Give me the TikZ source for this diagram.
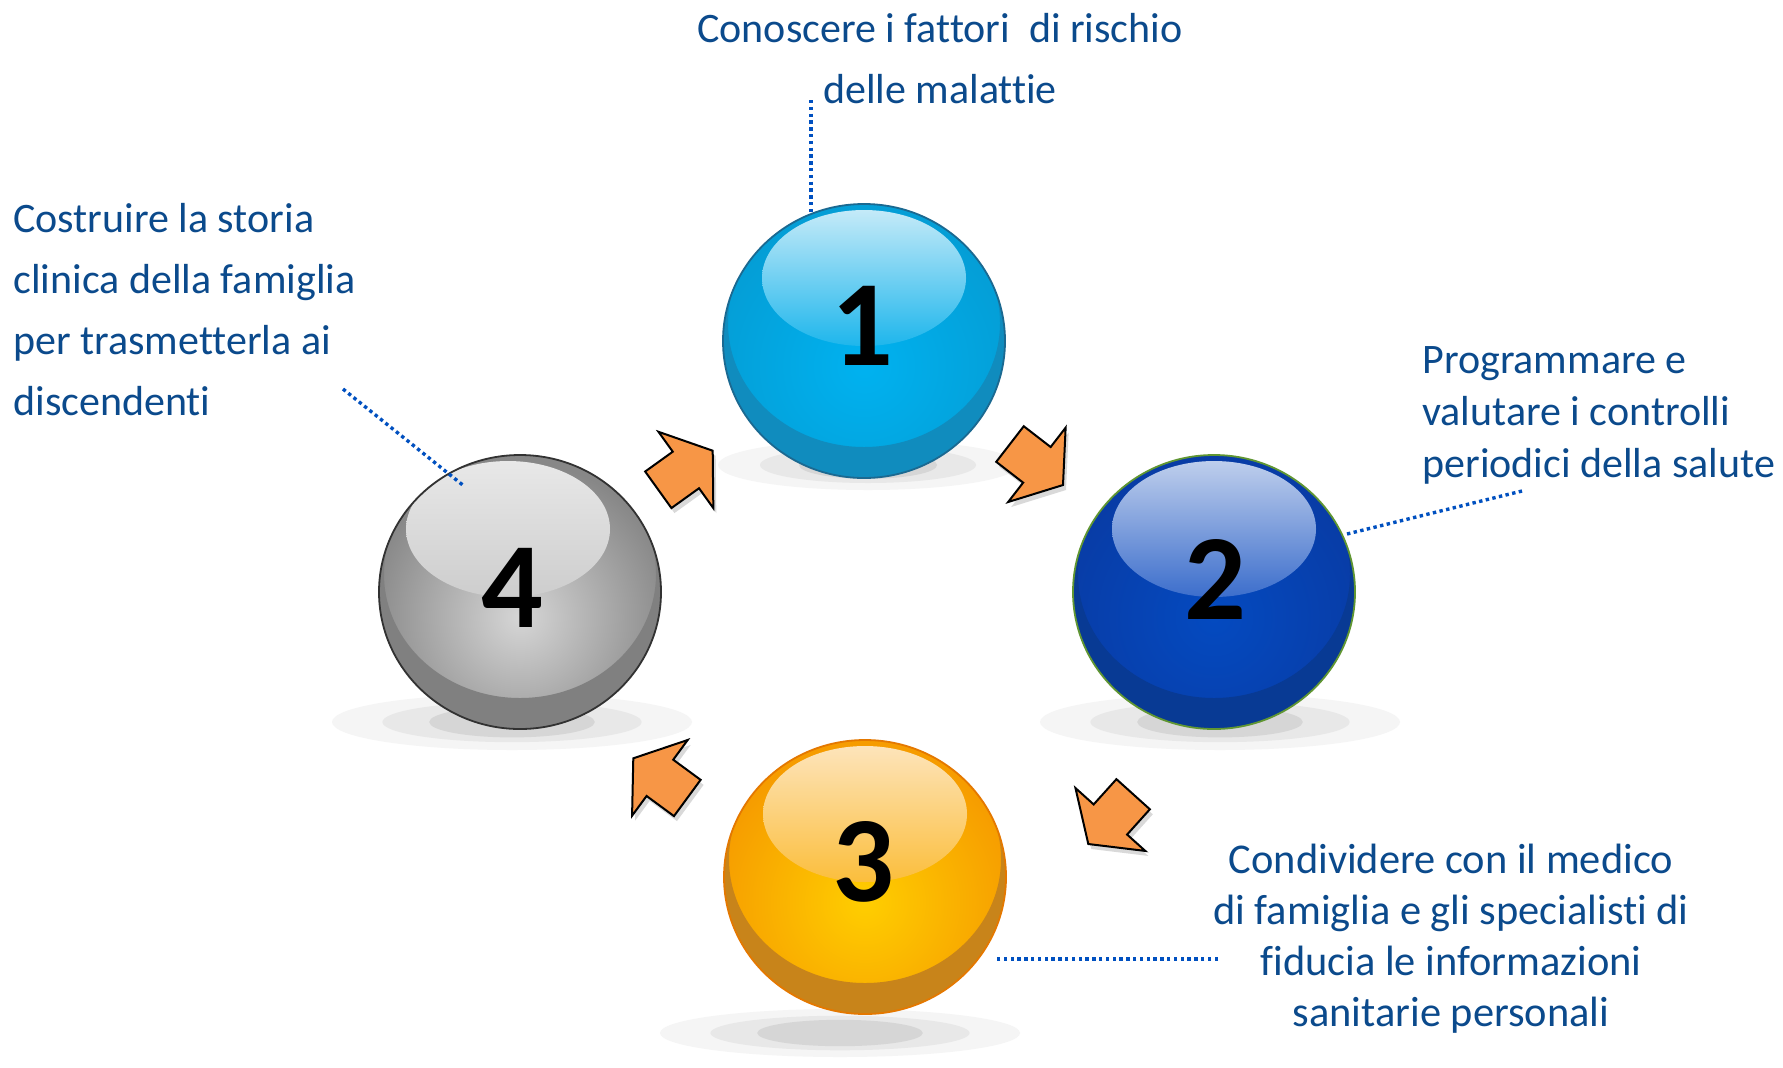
\documentclass[tikz,border=0pt]{standalone}
\usepackage{fontspec}
\setmainfont{Carlito}[Ligatures={NoCommon}]
\newfontfamily\numfont{Carlito-Bold.ttf}
\definecolor{txtblue}{RGB}{11,74,140}
\definecolor{dotblue}{RGB}{0,80,192}
\definecolor{arrfill}{RGB}{247,150,70}
% sphere 1 (cyan)
\definecolor{aout}{RGB}{4,158,214}
\definecolor{ain}{RGB}{0,178,240}
\definecolor{acre}{RGB}{16,140,190}
\definecolor{ahiT}{RGB}{196,234,248}
\definecolor{ahiB}{RGB}{30,182,236}
\definecolor{aline}{RGB}{27,105,145}
% sphere 2 (blue)
\definecolor{bout}{RGB}{8,60,166}
\definecolor{bin}{RGB}{4,74,192}
\definecolor{bcre}{RGB}{8,58,148}
\definecolor{bhiT}{RGB}{190,206,236}
\definecolor{bhiB}{RGB}{60,110,204}
\definecolor{bline}{RGB}{96,150,50}
% sphere 3 (orange)
\definecolor{cout}{RGB}{246,156,0}
\definecolor{cin}{RGB}{255,206,0}
\definecolor{ccre}{RGB}{200,132,26}
\definecolor{chiT}{RGB}{253,228,186}
\definecolor{chiB}{RGB}{251,190,60}
\definecolor{cline}{RGB}{228,120,0}
% sphere 4 (gray)
\definecolor{dout}{RGB}{135,135,135}
\definecolor{din}{RGB}{214,214,214}
\definecolor{dcre}{RGB}{128,128,128}
\definecolor{dhiT}{RGB}{232,232,232}
\definecolor{dhiB}{RGB}{205,205,205}
\definecolor{dline}{RGB}{50,50,50}
\newcommand\ballshadow[4]{%
  \fill[black!4] (#1,#2) ellipse [x radius=#3, y radius=#4];
  \fill[black!9] (#1,#2) ellipse [x radius={0.72*#3}, y radius={0.72*#4}];
  \fill[black!16] (#1,#2) ellipse [x radius={0.46*#3}, y radius={0.55*#4}];
}
\newcommand\drawsphere[4]{%
  \begin{scope}[shift={(#1,#2)}]
    \fill[#3out] (0,0) ellipse [x radius=141, y radius=137];
    \begin{scope}
      \clip (0,0) ellipse [x radius=141, y radius=137];
      \shade[inner color=#3in, outer color=#3out] (0,25) ellipse [x radius=155, y radius=155];
      \fill[#3cre, even odd rule] (0,0) ellipse [x radius=143, y radius=139]
        (0,-18) ellipse [x radius=136, y radius=124];
    \end{scope}
    \shade[top color=#3hiT, bottom color=#3hiB] (#4,-63) ellipse [x radius=102, y radius=68];
    \draw[#3line, line width=0.9pt] (0,0) ellipse [x radius=141, y radius=137];
  \end{scope}}
\newcommand\arrowpath{(0,0) -- (-33,47) -- (-33,22.5) -- (-67,22.5) -- (-67,-22.5) -- (-33,-22.5) -- (-33,-47) -- cycle}
\newcommand\blockarrow[3]{%
  \begin{scope}[shift={(#1,#2)}]
    \begin{scope}[shift={(3,5)}, rotate=#3]
      \fill[black, opacity=0.15] \arrowpath;
    \end{scope}
    \begin{scope}[rotate=#3]
      \filldraw[fill=arrfill, draw=black, line width=1pt, line join=miter] \arrowpath;
    \end{scope}
  \end{scope}}
\tikzset{
  txt/.style={text=txtblue, inner sep=0pt, font=\fontsize{21}{30.5}\selectfont},
  num/.style={text=black, inner sep=0pt, font=\numfont\fontsize{61}{61}\selectfont},
  dotline/.style={draw=dotblue, line width=1.7pt, dash pattern=on 1.7pt off 1.7pt}
}
\begin{document}
\begin{tikzpicture}[x=0.5pt, y=-0.5pt]
\useasboundingbox (0,0) rectangle (1783,1067);
\fill[white] (0,0) rectangle (1783,1067);

% shadows
\ballshadow{868}{465}{150}{25}
\ballshadow{1220}{722}{180}{28}
\ballshadow{840}{1033}{180}{24}
\ballshadow{512}{722}{180}{28}

% spheres
\drawsphere{864}{341}{a}{0}
\drawsphere{1214}{592}{b}{0}
\drawsphere{865}{877}{c}{0}
\drawsphere{520}{592}{d}{-12}

% numbers
\node[num] (s1) at (862,326) {1};
\node[num] (s2) at (1215,579) {2};
\node[num] (s3) at (863,862) {3};
\node[num] (s4) at (512,588) {4};

% block arrows
\blockarrow{1063}{485}{-37.7}
\blockarrow{712.7}{450.7}{35.7}
\blockarrow{633.3}{758.3}{143.7}
\blockarrow{1088.3}{844}{-132}

% texts (anchor base = baseline of the last line)
\node[txt, anchor=base, align=center, font=\fontsize{21}{30.75}\selectfont] (t1) at (940,103.5)
  {Conoscere i fattori\ \ di rischio\\delle malattie};
\node[txt, anchor=base west, align=left, font=\fontsize{21}{26}\selectfont] (t2) at (1422,477)
  {Programmare e\\valutare i controlli\\periodici della salute};
\node[txt, anchor=base, align=center, font=\fontsize{21.2}{25.6}\selectfont] (t3) at (1451,1026.6)
  {Condividere con il medico\\di famiglia e gli specialisti di\\fiducia le informazioni\\sanitarie personali};
\node[txt, anchor=base west, align=left, font=\fontsize{21}{30.6}\selectfont] (t4) at (13,415.6)
  {Costruire la storia\\clinica della famiglia\\per trasmetterla ai\\discendenti};

% dotted leaders
\coordinate (l1a) at (811,100); \coordinate (l1b) at (811,213);
\coordinate (l2a) at (1522,491); \coordinate (l2b) at (1347,534);
\coordinate (l3a) at (1218,959); \coordinate (l3b) at (994,959);
\coordinate (l4a) at (343,389); \coordinate (l4b) at (464,486);
\draw[dotline] (l1a) -- (l1b);
\draw[dotline] (l2a) -- (l2b);
\draw[dotline] (l3a) -- (l3b);
\draw[dotline] (l4a) -- (l4b);
\end{tikzpicture}
\end{document}
